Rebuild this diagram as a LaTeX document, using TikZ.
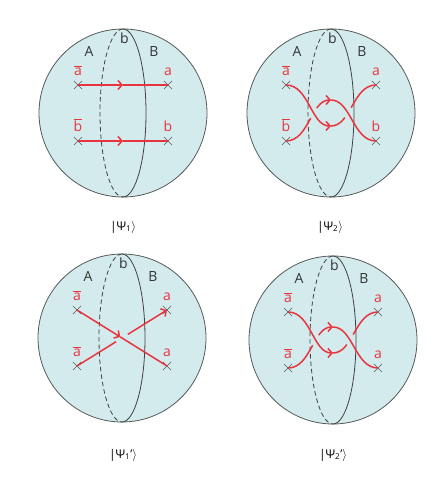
\documentclass[tikz,border=0pt]{standalone}
\usepackage{fontspec}
\setmainfont{Open Sans}
\usetikzlibrary{positioning,arrows.meta,calc,shapes.misc}
\definecolor{ballcyan}{RGB}{212,235,237}
\definecolor{braidred}{RGB}{232,52,62}
\definecolor{rimgray}{RGB}{85,90,90}
\newcommand{\barred}[1]{\vbox{\hrule height 0.9pt\kern1.6pt\hbox{#1}}}

\begin{document}
\begin{tikzpicture}[x=1pt,y=1pt,
  ball/.style={draw=rimgray,fill=ballcyan,line width=0.8pt},
  rim/.style={draw=black!75,line width=0.8pt},
  backrim/.style={rim,dash pattern=on 4.5pt off 3pt},
  site/.style={cross out,draw=rimgray,line width=0.6pt,minimum size=7.5pt,inner sep=0pt},
  side/.style={font=\fontsize{14}{16}\selectfont,text=black!80,inner sep=0pt},
  lbl/.style={font=\fontsize{14}{16}\selectfont,text=braidred,anchor=base,inner sep=0pt},
  strand/.style={braidred,line width=1.5pt},
  arrowed/.style={-{Straight Barb[length=4pt,width=9pt]}},
  ket/.style={font=\fontsize{12}{14}\selectfont,inner sep=0pt}]
\useasboundingbox (0,0) rectangle (443,487);

% the four balls with their cut
\foreach \n/\cx/\cy in {1/123/374,2/331/374,3/122/149,4/333/147}{
  \coordinate (o\n) at (\cx,\cy);
  \draw[ball] (o\n) circle[radius=84];
  \draw[backrim] ($(o\n)+(0,84)$) arc[start angle=90,end angle=270,x radius=23,y radius=84];
  \draw[rim] ($(o\n)+(0,-84)$) arc[start angle=-90,end angle=90,x radius=23,y radius=84];
  \node[side] (A\n) at ($(o\n)+(-34,62)$) {A};
  \node[side] (B\n) at ($(o\n)+(31,61)$) {B};
  \node[side] (b\n) at ($(o\n)+(1.5,74.5)$) {b};
}

% |Psi_1>
\node[site] (s1abar) at ($(o1)+(-45,28)$) {};
\node[site] (s1a) at ($(o1)+(45,28)$) {};
\node[site] (s1bbar) at ($(o1)+(-45,-28)$) {};
\node[site] (s1b) at ($(o1)+(45,-28)$) {};
\node[lbl] (l1abar) at ($(s1abar)+(0,9)$) {\barred{a}};
\node[lbl] (l1a) at ($(s1a)+(0,9)$) {a};
\node[lbl] (l1bbar) at ($(s1bbar)+(0,9)$) {\barred{b}};
\node[lbl] (l1b) at ($(s1b)+(0,9)$) {b};
\coordinate (m1a) at ($(s1abar)!0.5!(s1a)$);
\coordinate (m1b) at ($(s1bbar)!0.5!(s1b)$);
\draw[strand,arrowed] (s1abar.center) -- (m1a);
\draw[strand] (m1a) -- (s1a.center);
\draw[strand,arrowed] (s1bbar.center) -- (m1b);
\draw[strand] (m1b) -- (s1b.center);

% |Psi_2>
\node[site] (s2abar) at ($(o2)+(-45,28)$) {};
\node[site] (s2a) at ($(o2)+(45,28)$) {};
\node[site] (s2bbar) at ($(o2)+(-45,-28)$) {};
\node[site] (s2b) at ($(o2)+(45,-28)$) {};
\node[lbl] (l2abar) at ($(s2abar)+(0,9)$) {\barred{a}};
\node[lbl] (l2a) at ($(s2a)+(0,9)$) {a};
\node[lbl] (l2bbar) at ($(s2bbar)+(0,9)$) {\barred{b}};
\node[lbl] (l2b) at ($(s2b)+(0,9)$) {b};
\coordinate (t2) at ($(o2)+(0,13)$);
\coordinate (u2) at ($(o2)+(0,-13)$);
\begin{scope}[even odd rule]
  \clip ($(o2)+(-60,-40)$) rectangle ($(o2)+(60,40)$)
    ($(o2)+(-17.5,0)$) circle[radius=6] ($(o2)+(17.5,0)$) circle[radius=6];
  \draw[strand,arrowed] (s2bbar.center) .. controls +(23,0) and +(-20,0) .. (t2);
  \draw[strand] (u2) .. controls +(20,0) and +(-23,0) .. (s2a.center);
\end{scope}
\draw[strand,arrowed] (s2abar.center) .. controls +(23,0) and +(-20,0) .. (u2);
\draw[strand] (t2) .. controls +(20,0) and +(-23,0) .. (s2b.center);

% |Psi_1'>
\node[site] (s3abar) at ($(o3)+(-45,28)$) {};
\node[site] (s3a) at ($(o3)+(45,28)$) {};
\node[site] (s3abarlo) at ($(o3)+(-45,-28)$) {};
\node[site] (s3alo) at ($(o3)+(45,-28)$) {};
\node[lbl] (l3abar) at ($(s3abar)+(0,9)$) {\barred{a}};
\node[lbl] (l3a) at ($(s3a)+(0,9)$) {a};
\node[lbl] (l3abarlo) at ($(s3abarlo)+(0,9)$) {\barred{a}};
\node[lbl] (l3alo) at ($(s3alo)+(0,9)$) {a};
\coordinate (m3) at ($(s3abar)!0.48!(s3alo)$);
\begin{scope}[even odd rule]
  \clip ($(o3)+(-60,-40)$) rectangle ($(o3)+(60,40)$)
    (o3) circle[radius=7];
  \draw[strand,arrowed] (s3abarlo.center) -- (s3a.center);
\end{scope}
\draw[strand,arrowed] (s3abar.center) -- (m3);
\draw[strand] (m3) -- (s3alo.center);

% |Psi_2'>
\node[site] (s4abar) at ($(o4)+(-45,28)$) {};
\node[site] (s4a) at ($(o4)+(45,28)$) {};
\node[site] (s4abarlo) at ($(o4)+(-45,-28)$) {};
\node[site] (s4alo) at ($(o4)+(45,-28)$) {};
\node[lbl] (l4abar) at ($(s4abar)+(0,9)$) {\barred{a}};
\node[lbl] (l4a) at ($(s4a)+(0,9)$) {a};
\node[lbl] (l4abarlo) at ($(s4abarlo)+(0,9)$) {\barred{a}};
\node[lbl] (l4alo) at ($(s4alo)+(0,9)$) {a};
\coordinate (t4) at ($(o4)+(0,13)$);
\coordinate (u4) at ($(o4)+(0,-13)$);
\begin{scope}[even odd rule]
  \clip ($(o4)+(-60,-40)$) rectangle ($(o4)+(60,40)$)
    ($(o4)+(-17.5,0)$) circle[radius=6] ($(o4)+(17.5,0)$) circle[radius=6];
  \draw[strand,arrowed] (s4abarlo.center) .. controls +(23,0) and +(-20,0) .. (t4);
  \draw[strand] (u4) .. controls +(20,0) and +(-23,0) .. (s4a.center);
\end{scope}
\draw[strand,arrowed] (s4abar.center) .. controls +(23,0) and +(-20,0) .. (u4);
\draw[strand] (t4) .. controls +(20,0) and +(-23,0) .. (s4alo.center);

% states
\node[ket] (k1) at (123,260) {|Ψ\textsubscript{1}$\rangle$};
\node[ket] (k2) at (330,260) {|Ψ\textsubscript{2}$\rangle$};
\node[ket] (k3) at (123,32) {|Ψ\textsubscript{1}’$\rangle$};
\node[ket] (k4) at (333,32) {|Ψ\textsubscript{2}’$\rangle$};
\end{tikzpicture}
\end{document}
